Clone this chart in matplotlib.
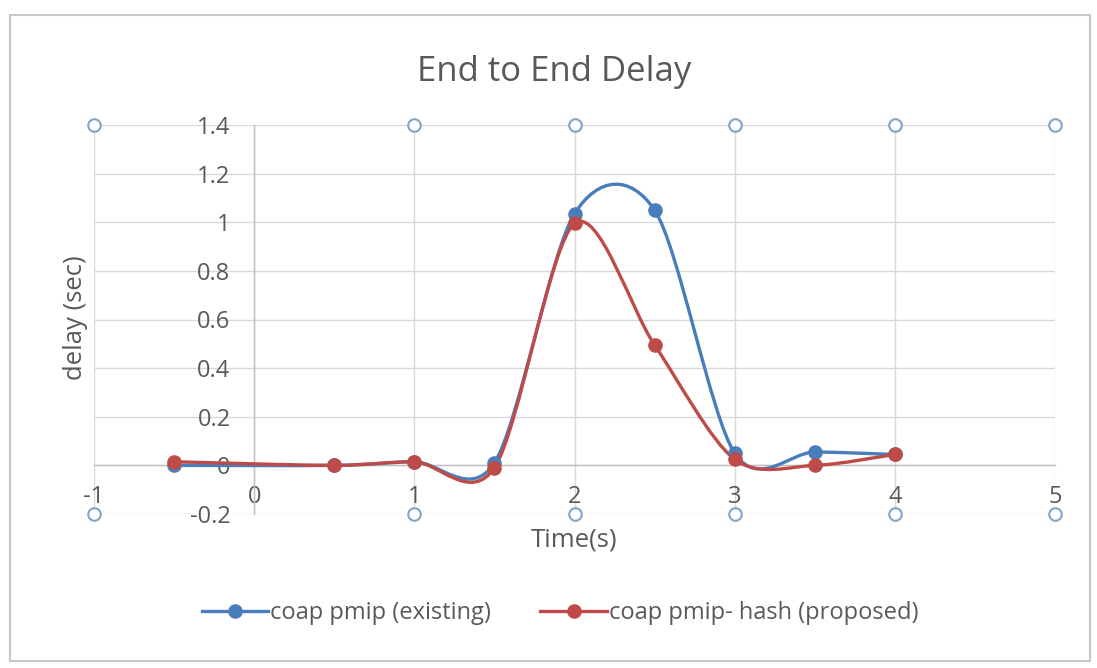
import matplotlib.pyplot as plt
from matplotlib.path import Path
from matplotlib.patches import PathPatch, Rectangle
from matplotlib.lines import Line2D

time = [-0.5, 0.5, 1, 1.5, 2, 2.5, 3, 3.5, 4]
existing = [0.0, 0.0, 0.015, 0.01, 1.035, 1.05, 0.05, 0.055, 0.045]
proposed = [0.015, 0.0, 0.015, -0.01, 0.995, 0.495, 0.025, 0.0, 0.045]

x_ticks = [-1, 0, 1, 2, 3, 4, 5]
y_ticks = [-0.2, 0, 0.2, 0.4, 0.6, 0.8, 1, 1.2, 1.4]
y_tick_labels = ["-0.2", "0", "0.2", "0.4", "0.6", "0.8", "1", "1.2", "1.4"]
handle_x = [-1, 1, 2, 3, 4, 5]

BLUE = "#4a7ebb"
RED = "#be4b48"
TXT = "#595959"
GRID = "#d9d9d9"

plt.rcParams["font.family"] = ["Open Sans", "DejaVu Sans"]
plt.rcParams["axes.unicode_minus"] = False


def smooth_path(xs, ys, k=0.15):
    # excel-like smoothed line: cubic bezier through the points
    pts = list(zip(xs, ys))
    verts = [pts[0]]
    codes = [Path.MOVETO]
    n = len(pts)
    for i in range(n - 1):
        p0 = pts[i - 1] if i > 0 else pts[i]
        p1 = pts[i]
        p2 = pts[i + 1]
        p3 = pts[i + 2] if i + 2 < n else pts[i + 1]
        c1 = (p1[0] + (p2[0] - p0[0]) * k, p1[1] + (p2[1] - p0[1]) * k)
        c2 = (p2[0] - (p3[0] - p1[0]) * k, p2[1] - (p3[1] - p1[1]) * k)
        verts += [c1, c2, p2]
        codes += [Path.CURVE4] * 3
    return Path(verts, codes)


fig = plt.figure(figsize=(10.97, 6.68), dpi=100)
ax = fig.add_axes([94 / 1097, 1 - 514 / 668, (1055 - 94) / 1097, (514 - 125) / 668])

ax.set_xlim(-1, 5)
ax.set_ylim(-0.2, 1.4)
ax.set_xticks(x_ticks)
ax.set_yticks(y_ticks)
ax.set_yticklabels(y_tick_labels)
ax.grid(True, color=GRID, linewidth=1.0)
ax.set_axisbelow(True)

for side in ["top", "right"]:
    ax.spines[side].set_visible(False)
ax.spines["left"].set_position(("data", 0))
ax.spines["bottom"].set_position(("data", 0))
for side in ["left", "bottom"]:
    ax.spines[side].set_color("#bfbfbf")
    ax.spines[side].set_linewidth(1.0)
ax.tick_params(axis="y", length=0, pad=17, labelsize=17, labelcolor=TXT)
ax.tick_params(axis="x", length=0, pad=14, labelsize=17, labelcolor=TXT)

for ys, col in [(existing, BLUE), (proposed, RED)]:
    ax.add_patch(PathPatch(smooth_path(time, ys), facecolor="none",
                           edgecolor=col, linewidth=2.4, zorder=3))
    ax.plot(time, ys, linestyle="none", marker="o", markersize=9.5,
            color=col, zorder=4)

# hollow round handles on the top and bottom gridlines
for yv in [1.4, -0.2]:
    ax.plot(handle_x, [yv] * len(handle_x), linestyle="none", marker="o",
            markersize=9, markerfacecolor="white", markeredgecolor="#7ea6c8",
            markeredgewidth=1.5, zorder=5, clip_on=False)

fig.text(554 / 1097, 1 - 72 / 668, "End to End Delay", ha="center", va="center",
         fontsize=25, color=TXT)
fig.text(75 / 1097, 1 - 318 / 668, "delay (sec)", ha="center", va="center",
         rotation=90, fontsize=18.5, color=TXT)
fig.text(574 / 1097, 1 - 540 / 668, "Time(s)", ha="center", va="center",
         fontsize=18.5, color=TXT)

handles = [
    Line2D([], [], color=BLUE, linewidth=2.4, marker="o", markersize=9.5),
    Line2D([], [], color=RED, linewidth=2.4, marker="o", markersize=9.5),
]
fig.legend(handles, ["coap pmip (existing)", "coap pmip- hash (proposed)"],
           loc="center", bbox_to_anchor=(560 / 1097, 1 - 613 / 668), ncol=2,
           frameon=False, fontsize=17, labelcolor=TXT, handlelength=2.8,
           handletextpad=0.1, columnspacing=2.1)

# outer chart frame
fig.patches.append(Rectangle((10 / 1097, 1 - 661 / 668), 1080 / 1097, 646 / 668,
                             transform=fig.transFigure, fill=False,
                             edgecolor="#c8c8c8", linewidth=1.5))

fig.savefig("out.png", dpi=100, facecolor="white")
